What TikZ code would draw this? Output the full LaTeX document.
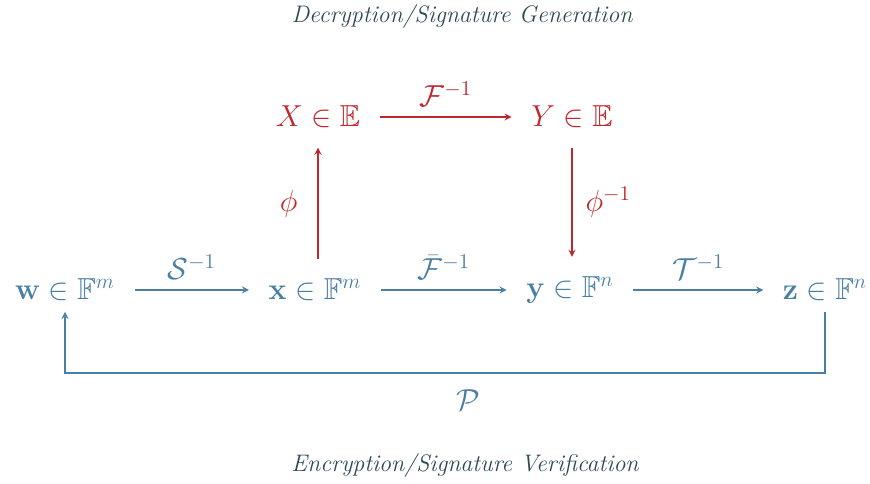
\documentclass[tikz,border=0pt]{standalone}
\usepackage{amsmath}
\usepackage{amssymb}
\usetikzlibrary{arrows,positioning,calc}

\definecolor{mapblue}{HTML}{4A7FA3}
\definecolor{mapred}{HTML}{C0272D}
\definecolor{titleslate}{HTML}{2C4A52}

\begin{document}
\begin{tikzpicture}[
    space/.style={font=\LARGE, text=mapblue, inner sep=4pt},
    ext/.style={font=\LARGE, text=mapred, inner sep=4pt},
    edge/.style={-stealth, line width=0.8pt, draw=mapblue, shorten <=7pt, shorten >=7pt},
    extedge/.style={-stealth, line width=0.8pt, draw=mapred, shorten <=7pt, shorten >=7pt},
    label/.style={font=\LARGE, text=mapblue},
    extlabel/.style={font=\LARGE, text=mapred},
    title/.style={font=\fontsize{13.6pt}{16pt}\selectfont\itshape, text=titleslate},
]
\useasboundingbox (0,0) rectangle (17.4,9.68);

\node[title] (top) at (9.24, 9.34) {Decryption/Signature Generation};

% Base field spaces
\node[space] (wvec) at (1.3, 3.88) {$\mathbf{w} \in \mathbb{F}^m$};
\node[space] (xvec) at (6.3, 3.88) {$\mathbf{x} \in \mathbb{F}^m$};
\node[space] (yvec) at (11.4, 3.88) {$\mathbf{y} \in \mathbb{F}^n$};
\node[space] (zvec) at (16.5, 3.88) {$\mathbf{z} \in \mathbb{F}^n$};

% Extension field
\node[ext] (Xext) at (6.36, 7.34) {$X \in \mathbb{E}$};
\node[ext] (Yext) at (11.44, 7.34) {$Y \in \mathbb{E}$};

\draw[edge] (wvec) -- node[label, above=2pt] {$\mathcal{S}^{-1}$} (xvec);
\draw[edge] (xvec) -- node[label, above=2pt] {$\bar{\mathcal{F}}^{-1}$} (yvec);
\draw[edge] (yvec) -- node[label, above=2pt] {$\mathcal{T}^{-1}$} (zvec);

\draw[extedge] (Xext) -- node[extlabel, above=2pt] {$\mathcal{F}^{-1}$} (Yext);
\draw[extedge] (Xext.south |- xvec.north) -- node[extlabel, left=8pt] {$\phi$} (Xext.south);
\draw[extedge] (Yext.south) -- node[extlabel, right=4pt] {$\phi^{-1}$} (Yext.south |- yvec.north);

% Public map
\coordinate (pbend) at (9.3, 2.22);
\draw[edge, shorten <=2pt, shorten >=2pt] (zvec.south) |- (pbend) -| (wvec.south);
\node[label] (pmap) at (9.36, 1.68) {$\mathcal{P}$};

\node[title] (bottom) at (9.3, 0.36) {Encryption/Signature Verification};

\end{tikzpicture}
\end{document}
